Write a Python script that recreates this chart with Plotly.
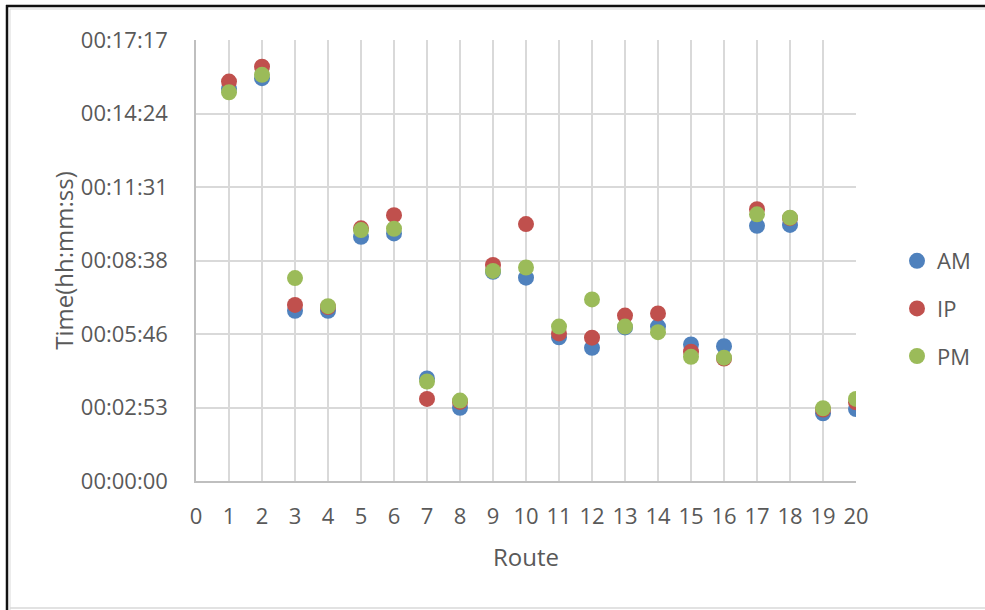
import plotly.graph_objects as go

# Journey times per route (seconds) for the three time periods
routes = list(range(1, 21))
am_secs = [922, 947, 400, 400, 574, 582, 241, 172, 492, 478,
           338, 313, 361, 363, 321, 317, 600, 602, 159, 169]
ip_secs = [939, 974, 414, 409, 594, 625, 193, 186, 508, 604,
           347, 337, 389, 394, 304, 288, 639, 618, 168, 185]
pm_secs = [914, 955, 477, 411, 590, 593, 234, 189, 494, 502,
           363, 427, 363, 350, 292, 290, 627, 619, 171, 193]

# y-axis ticks every 0.002 day (172.8 s), labelled as hh:mm:ss
y_tick_secs = [0, 172.8, 345.6, 518.4, 691.2, 864.0, 1036.8]
y_tick_text = ["00:00:00", "00:02:53", "00:05:46", "00:08:38",
               "00:11:31", "00:14:24", "00:17:17"]
x_ticks = list(range(0, 21))

series = [("AM", am_secs, "#4F81BD"),
          ("IP", ip_secs, "#C0504D"),
          ("PM", pm_secs, "#9BBB59")]

W, H = 985, 610
L, R, T, B = 196, 129, 40, 129
PW, PH = W - L - R, H - T - B

FONT = "Open Sans"
TXT = "#595959"
GRID = "#D9D9D9"


def px(x):
    return (x - L) / PW


def py(y):
    return (H - B - y) / PH


fig = go.Figure()
for i, (name, vals, col) in enumerate(series):
    fig.add_trace(go.Scatter(
        x=routes, y=vals, mode="markers", name=name,
        legendgroup=name,
        marker=dict(size=16, color=col, line=dict(width=0)),
    ))

# outer chart frame: dark top/left edges, light inner border
shapes = [
    dict(type="line", xref="paper", yref="paper",
         x0=px(6), x1=px(W), y0=py(6), y1=py(6),
         line=dict(color="#111111", width=2.5)),
    dict(type="line", xref="paper", yref="paper",
         x0=px(7), x1=px(7), y0=py(5), y1=py(H),
         line=dict(color="#111111", width=2.5)),
    dict(type="line", xref="paper", yref="paper",
         x0=px(10), x1=px(W), y0=py(9), y1=py(9),
         line=dict(color="#D9D9D9", width=1)),
    dict(type="line", xref="paper", yref="paper",
         x0=px(10), x1=px(10), y0=py(9), y1=py(H),
         line=dict(color="#D9D9D9", width=1)),
    dict(type="line", xref="paper", yref="paper",
         x0=px(10), x1=px(W), y0=py(608), y1=py(608),
         line=dict(color="#D9D9D9", width=1.5)),
]

fig.update_layout(
    width=W, height=H,
    margin=dict(l=L, r=R, t=T, b=B, autoexpand=False),
    paper_bgcolor="white", plot_bgcolor="white",
    font=dict(family=FONT, size=22, color=TXT),
    showlegend=True,
    legend=dict(x=px(897), y=py(240), xanchor="left", yanchor="top",
                font=dict(family=FONT, size=22, color=TXT),
                tracegroupgap=16, itemwidth=30,
                bgcolor="rgba(0,0,0,0)"),
    shapes=shapes,
)

fig.update_xaxes(
    range=[0, 20], tickvals=x_ticks, ticktext=[str(v) for v in x_ticks],
    showgrid=True, gridcolor=GRID, gridwidth=1.5,
    showline=True, linecolor="#BFBFBF", linewidth=1.5,
    zeroline=False, ticks="", ticklabelstandoff=15,
    tickfont=dict(family=FONT, size=22, color=TXT),
    title=dict(text="Route", font=dict(family=FONT, size=24, color=TXT),
               standoff=20),
)
fig.update_yaxes(
    range=[0, 1036.8], tickvals=y_tick_secs, ticktext=y_tick_text,
    showgrid=True, gridcolor=GRID, gridwidth=1.5,
    showline=True, linecolor="#BFBFBF", linewidth=1.5,
    zeroline=False, ticks="", ticklabelstandoff=22,
    tickfont=dict(family=FONT, size=22, color=TXT),
    title=dict(text="Time(hh:mm:ss)", font=dict(family=FONT, size=24, color=TXT),
               standoff=0),
)

fig.write_html("out.html")
